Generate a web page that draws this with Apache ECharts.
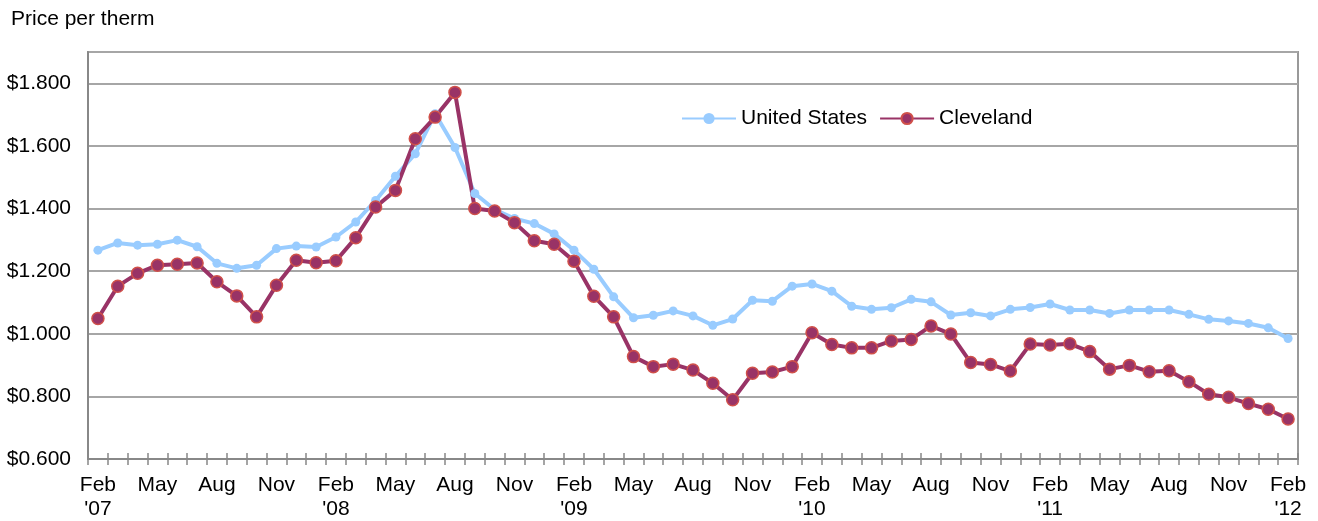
<!DOCTYPE html>
<html>
<head>
<meta charset="utf-8">
<script src="https://cdn.jsdelivr.net/npm/echarts@6/dist/echarts.min.js"></script>
<style>
  html, body { margin: 0; padding: 0; background: #fff; }
  #chart { width: 1318px; height: 521px; }
</style>
</head>
<body>
<div id="chart"></div>
<script>
// month labels, Feb 2007 .. Feb 2012
const monthNames = ["Jan", "Feb", "Mar", "Apr", "May", "Jun", "Jul", "Aug", "Sep", "Oct", "Nov", "Dec"];
const categories = [];
for (let i = 0; i < 61; i++) {
  const m = (1 + i) % 12;
  const y = 7 + Math.floor((1 + i) / 12);
  categories.push(monthNames[m] + " '" + String(y).padStart(2, "0"));
}

// price per therm
const unitedStates = [
  1.267, 1.290, 1.283, 1.286, 1.299, 1.278, 1.225, 1.209, 1.219, 1.272, 1.280, 1.277,
  1.309, 1.357, 1.426, 1.503, 1.575, 1.703, 1.595, 1.448, 1.397, 1.368, 1.352, 1.319,
  1.267, 1.206, 1.118, 1.051, 1.059, 1.073, 1.057, 1.027, 1.047, 1.107, 1.104, 1.152,
  1.159, 1.136, 1.088, 1.078, 1.083, 1.110, 1.102, 1.060, 1.067, 1.057, 1.078, 1.084,
  1.095, 1.076, 1.076, 1.065, 1.076, 1.076, 1.076, 1.062, 1.046, 1.041, 1.033, 1.019, 0.985
];
const cleveland = [
  1.049, 1.152, 1.193, 1.219, 1.222, 1.226, 1.166, 1.121, 1.054, 1.155, 1.235, 1.227,
  1.233, 1.307, 1.405, 1.458, 1.623, 1.692, 1.771, 1.400, 1.392, 1.355, 1.297, 1.286,
  1.232, 1.120, 1.054, 0.927, 0.895, 0.903, 0.884, 0.842, 0.789, 0.874, 0.878, 0.895,
  1.003, 0.966, 0.955, 0.955, 0.977, 0.982, 1.025, 0.999, 0.908, 0.902, 0.881, 0.967,
  0.964, 0.968, 0.943, 0.887, 0.899, 0.879, 0.882, 0.847, 0.807, 0.797, 0.777, 0.759, 0.728
];

const FONT = "Liberation Sans, Arial, sans-serif";
const chart = echarts.init(document.getElementById("chart"));

chart.setOption({
  animation: false,
  textStyle: { fontFamily: FONT },
  title: {
    text: "Price per therm",
    left: 6,
    top: 4,
    textStyle: { fontSize: 21, fontWeight: "normal", color: "#000", fontFamily: FONT }
  },
  legend: {
    left: 676,
    top: 103,
    itemWidth: 54,
    itemHeight: 14,
    itemGap: 12,
    textStyle: { fontSize: 21, color: "#000", fontFamily: FONT },
    data: ["United States", "Cleveland"]
  },
  grid: {
    left: 88,
    right: 20,
    top: 52,
    bottom: 61,
    show: true,
    borderColor: "#999",
    borderWidth: 2
  },
  xAxis: [
    {
      type: "category",
      data: categories,
      axisLine: { lineStyle: { color: "#888", width: 2 } },
      axisTick: { show: true, interval: 0, length: 6, lineStyle: { color: "#888", width: 1.5 } },
      axisLabel: {
        interval: 2,
        margin: 14,
        fontSize: 21,
        lineHeight: 24,
        color: "#000",
        fontFamily: FONT,
        formatter: function (v) {
          const parts = v.split(" ");
          return parts[0] === "Feb" ? parts[0] + "\n" + parts[1] : parts[0];
        }
      },
      splitLine: { show: false }
    },
    {
      // inward half of the cross ticks
      type: "category",
      data: categories,
      position: "bottom",
      axisLine: { show: false },
      axisTick: { show: true, inside: true, interval: 0, length: 6, lineStyle: { color: "#888", width: 1.5 } },
      axisLabel: { show: false },
      splitLine: { show: false }
    }
  ],
  yAxis: {
    type: "value",
    min: 0.6,
    max: 1.9,
    interval: 0.2,
    axisLine: { show: true, lineStyle: { color: "#888", width: 2 } },
    axisTick: { show: false },
    axisLabel: {
      margin: 17,
      fontSize: 21,
      color: "#000",
      fontFamily: FONT,
      formatter: function (v) {
        return v > 1.85 ? "" : "$" + v.toFixed(3);
      }
    },
    splitLine: { lineStyle: { color: "#a6a6a6", width: 2 } }
  },
  series: [
    {
      name: "United States",
      type: "line",
      data: unitedStates,
      symbol: "circle",
      symbolSize: 9,
      lineStyle: { color: "#99ccff", width: 4 },
      itemStyle: { color: "#99ccff" }
    },
    {
      name: "Cleveland",
      type: "line",
      data: cleveland,
      symbol: "circle",
      symbolSize: 12,
      lineStyle: { color: "#993366", width: 4 },
      itemStyle: { color: "#993366", borderColor: "#d0504a", borderWidth: 1.5 }
    }
  ]
});
</script>
</body>
</html>
